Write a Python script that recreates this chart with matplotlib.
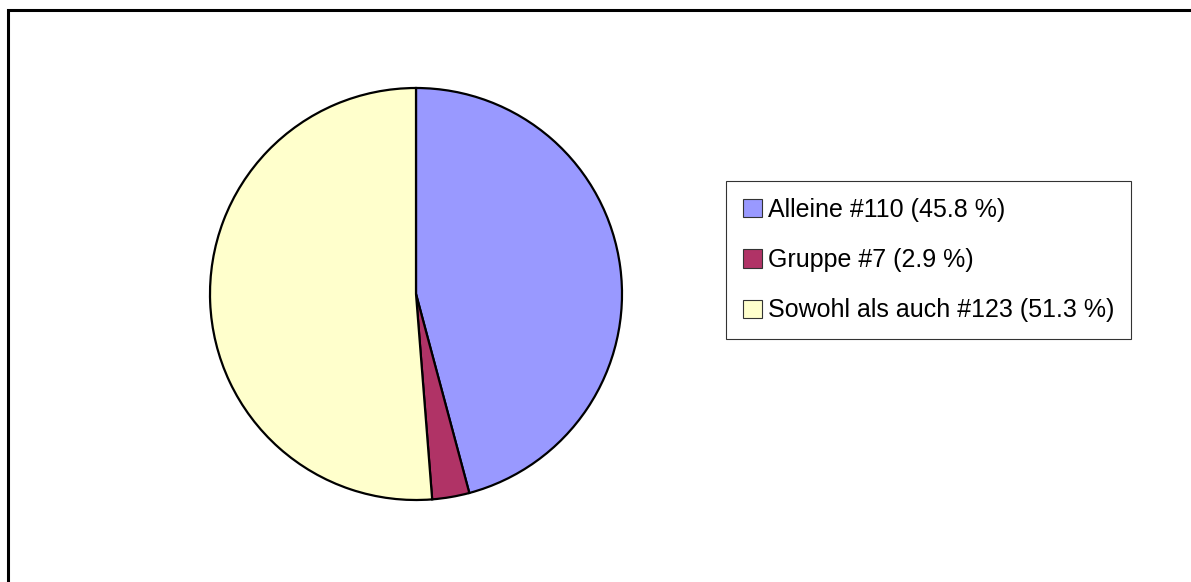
import matplotlib
matplotlib.use("Agg")
import matplotlib.pyplot as plt
from matplotlib.patches import Rectangle

labels = ["Alleine #110 (45.8 %)", "Gruppe #7 (2.9 %)", "Sowohl als auch #123 (51.3 %)"]
values = [110, 7, 123]
colors = ["#9999FF", "#B03366", "#FFFFCC"]

W, H = 1191, 582
plt.rcParams['font.family'] = ['Liberation Sans', 'DejaVu Sans']
fig = plt.figure(figsize=(W / 100, H / 100), dpi=100)

# outer frame (top and left edges visible)
fig.patches.append(Rectangle((8 / W, -0.1), 1.2, 1 - 10 / H + 0.1, transform=fig.transFigure,
                             fill=False, edgecolor="black", linewidth=2.2))

ax = fig.add_axes([210 / W, (H - 500) / H, 412 / W, 412 / H])
wedges, _ = ax.pie(values, colors=colors, startangle=90, counterclock=False, radius=1,
                   wedgeprops=dict(edgecolor="black", linewidth=1.6))
for w in wedges:
    w.set_clip_on(False)
ax.set_xlim(-1.0, 1.0)
ax.set_ylim(-1.0, 1.0)
ax.set_aspect("equal")
ax.axis("off")

leg = fig.legend(wedges, labels, loc="upper left",
                 bbox_to_anchor=(726 / W, 1 - 181 / H),
                 fontsize=18, handlelength=0.76, handleheight=0.76, handletextpad=0.25,
                 labelspacing=1.06, borderpad=0.66, borderaxespad=0, fancybox=False,
                 frameon=True, edgecolor="black")
leg.get_frame().set_linewidth(0.8)
for h in leg.legend_handles:
    h.set_linewidth(0.8)
    h.set_edgecolor("#333333")

fig.savefig("out.png", dpi=100)
